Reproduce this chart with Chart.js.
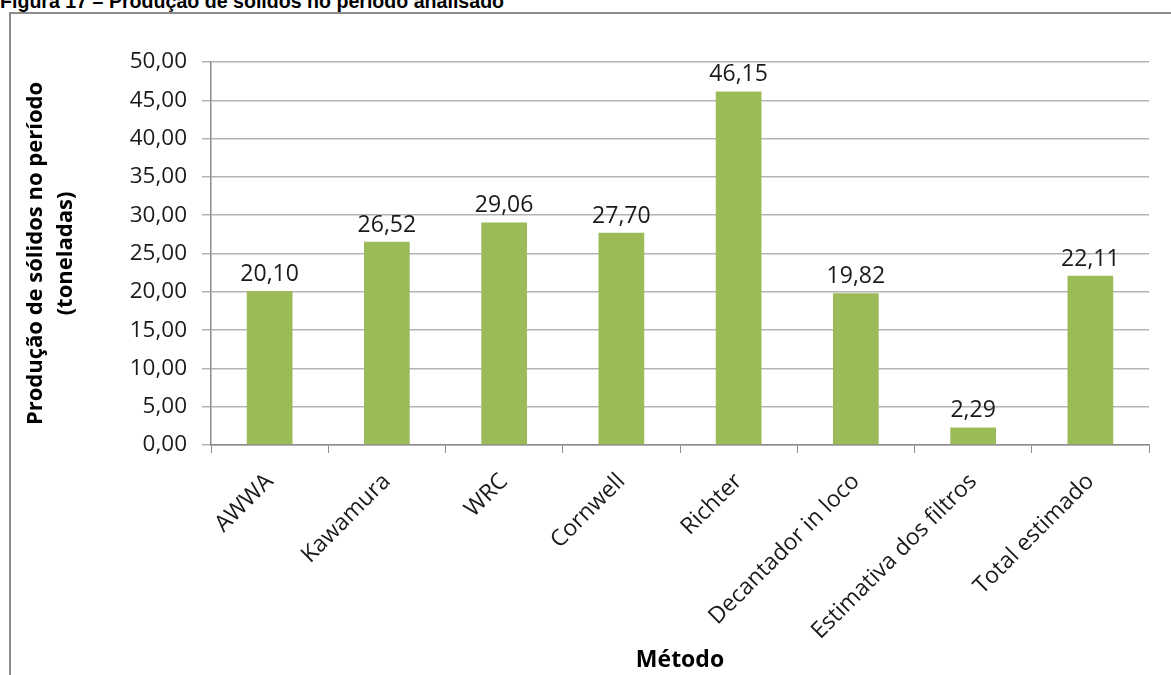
<!DOCTYPE html>
<html>
<head>
<meta charset="utf-8">
<script src="https://cdn.jsdelivr.net/npm/chart.js@4.4.1/dist/chart.umd.min.js"></script>
<style>
  html, body { margin: 0; padding: 0; background: #fff; }
  body { width: 1171px; height: 675px; position: relative; overflow: hidden; }
  #titulo { position: absolute; left: 0; top: -9px; font: bold 19.6px/20px "Liberation Sans", Arial, sans-serif; color: #000; white-space: nowrap; }
  #bordaTopo { position: absolute; left: 9px; top: 12px; width: 1162px; height: 2px; background: #8c8c8c; }
  #bordaEsq { position: absolute; left: 9px; top: 12px; width: 2px; height: 663px; background: #8c8c8c; }
  #wrap { position: absolute; left: 0; top: 0; width: 1171px; height: 675px; }
</style>
</head>
<body>
<div id="titulo">Figura 17 – Produção de sólidos no período analisado</div>
<div id="bordaTopo"></div>
<div id="bordaEsq"></div>
<div id="wrap"><canvas id="grafico"></canvas></div>
<script>
// dados
const metodos = ["AWWA", "Kawamura", "WRC", "Cornwell", "Richter", "Decantador in loco", "Estimativa dos filtros", "Total estimado"];
const producao = [20.10, 26.52, 29.06, 27.70, 46.15, 19.82, 2.29, 22.11];
const eixoY = { min: 0, max: 50, passo: 5 };

const virgula = v => Number(v).toFixed(2).replace(".", ",");

// rotulos em cima das barras
const rotulos = {
  id: "rotulos",
  afterDatasetsDraw(chart) {
    const ctx = chart.ctx;
    const meta = chart.getDatasetMeta(0);
    ctx.save();
    ctx.font = '23px "Open Sans"';
    ctx.fillStyle = "#1a1a1a";
    ctx.textAlign = "center";
    ctx.textBaseline = "alphabetic";
    meta.data.forEach((bar, i) => {
      ctx.fillText(virgula(producao[i]), bar.x, bar.y - 10);
    });
    ctx.restore();
  }
};

new Chart(document.getElementById("grafico"), {
  type: "bar",
  data: {
    labels: metodos,
    datasets: [{
      data: producao,
      backgroundColor: "#9bbb59",
      borderWidth: 0,
      categoryPercentage: 1,
      barPercentage: 0.39
    }]
  },
  options: {
    responsive: true,
    maintainAspectRatio: false,
    animation: false,
    layout: { padding: { top: 62, right: 22, left: 0, bottom: 0 } },
    plugins: { legend: { display: false }, tooltip: { enabled: false } },
    scales: {
      x: {
        offset: true,
        grid: { drawOnChartArea: false, drawTicks: true, tickLength: 8, color: "#8c8c8c", offset: true },
        border: { color: "#8c8c8c", width: 1.5 },
        ticks: { color: "#1a1a1a", font: { family: "Open Sans", size: 23 }, minRotation: 45, maxRotation: 45, padding: 15 },
        title: { display: true, text: "Método", color: "#000", font: { family: "Open Sans", size: 23, weight: "bold" }, padding: { bottom: 1 } },
        afterFit: s => { s.height = 230; }
      },
      y: {
        min: eixoY.min,
        max: eixoY.max,
        grid: { color: "#b4b4b4", lineWidth: 1.5, tickLength: 9 },
        border: { color: "#8c8c8c", width: 1.5 },
        ticks: { stepSize: eixoY.passo, color: "#1a1a1a", font: { family: "Open Sans", size: 22.5 }, padding: 15, callback: v => virgula(v) },
        title: { display: true, text: ["Produção de sólidos no período", "(toneladas)"], color: "#000", font: { family: "Open Sans", size: 22, weight: "bold", lineHeight: 1.4 }, padding: { top: 20 } },
        afterFit: s => { s.width = 211; }
      }
    }
  },
  plugins: [rotulos]
});
</script>
</body>
</html>
